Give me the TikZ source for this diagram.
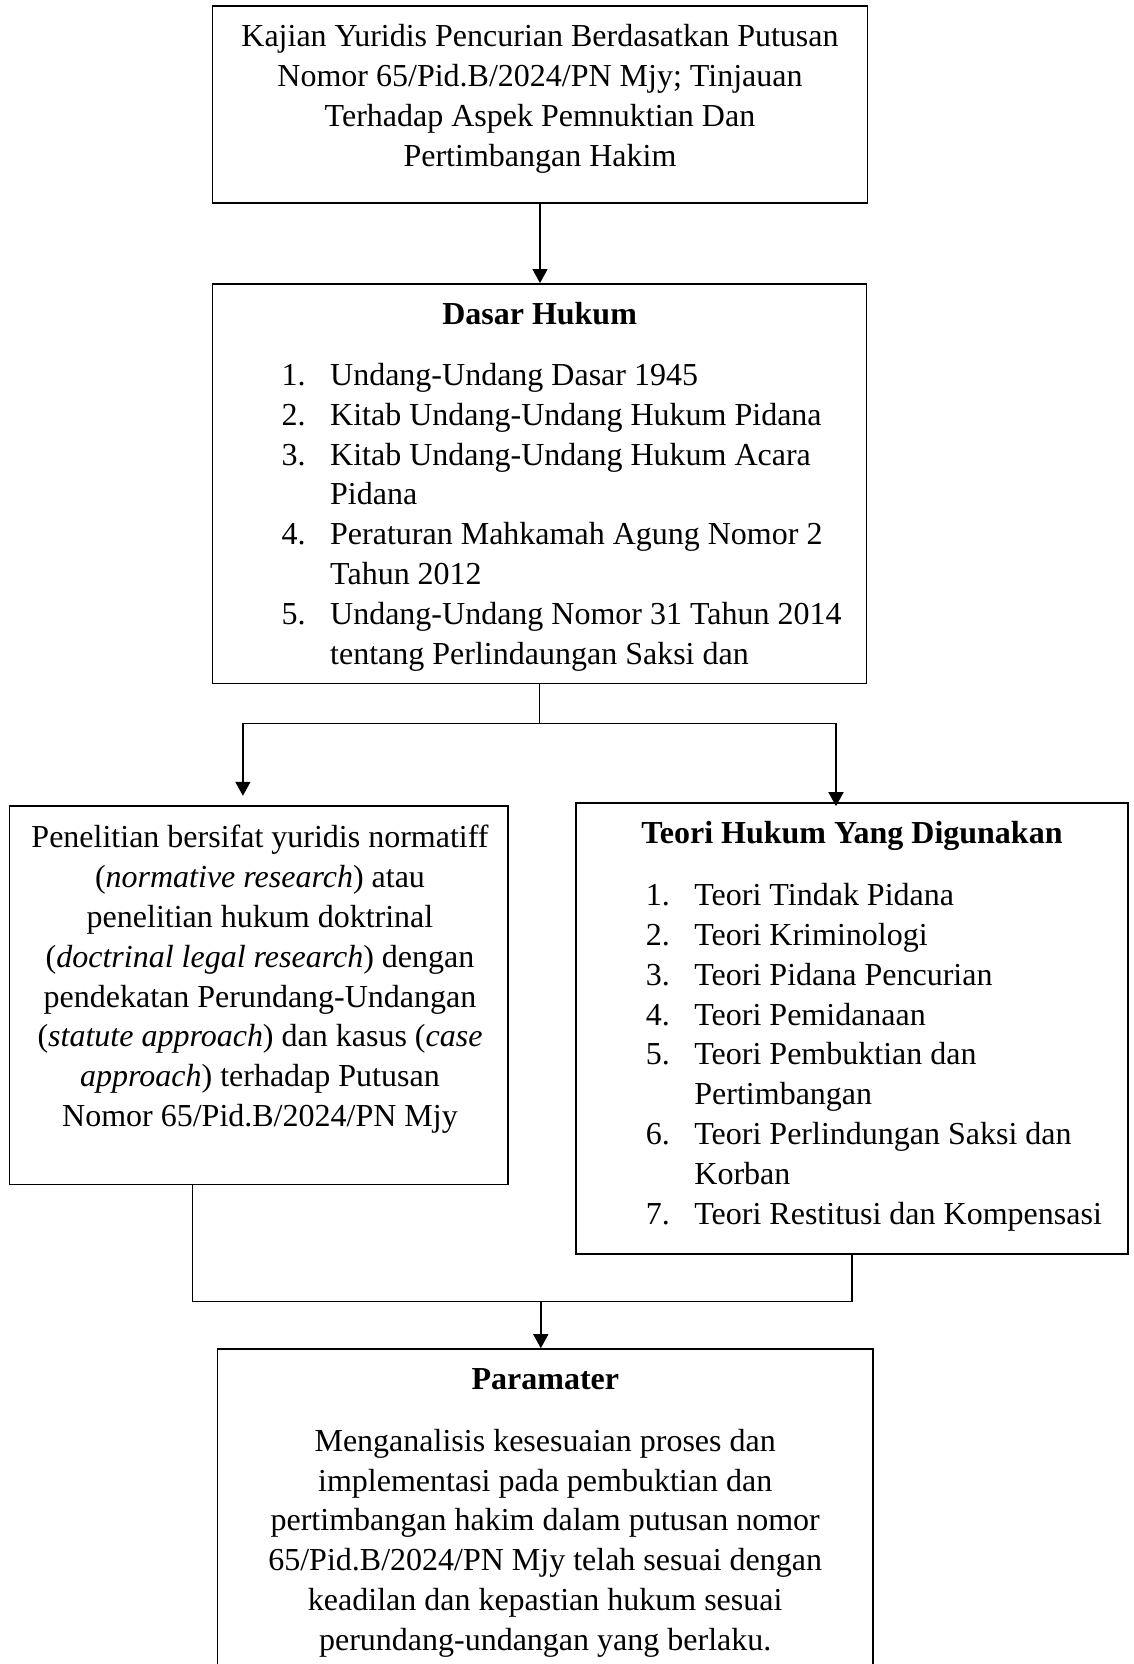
\documentclass[tikz,border=0pt]{standalone}
\usepackage{fontspec}
\setmainfont{Liberation Serif}
\usetikzlibrary{arrows.meta}
\tikzset{
  kotak/.style={draw, line width=0.8pt, inner sep=0pt},
  teks/.style={inner sep=0pt, font=\fontsize{16}{19.9}\selectfont},
  panah/.style={-{Triangle[length=7pt,width=7.5pt]}, line width=0.7pt},
  garis/.style={line width=0.7pt}
}
\newcommand{\butir}[1]{\makebox[24.3pt][l]{#1.}}
\newcommand{\lanjut}{\hspace*{24.3pt}}

\begin{document}
\begin{tikzpicture}[x=1pt,y=-1pt]
\useasboundingbox (0,0) rectangle (567,832);
\clip (0,0) rectangle (567,832);
% kotak-kotak
\node[kotak, minimum width=327.5pt, minimum height=98.7pt] (judul) at (270,52.3) {};
\node[kotak, minimum width=327pt, minimum height=199.7pt] (dasar) at (269.8,241.8) {};
\node[kotak, minimum width=249.3pt, minimum height=189.2pt] (metode) at (129.35,497.6) {};
\node[kotak, minimum width=275.8pt, minimum height=225.5pt] (teori) at (426,514.25) {};
\node[kotak, minimum width=327.7pt, minimum height=200pt] (param) at (272.5,774.5) {};

% isi kotak (anchor=base ada di baris terakhir)
\node[teks, align=center, anchor=base] (judulteks) at (270,83.1)
  {Kajian Yuridis Pencurian Berdasatkan Putusan\\
   Nomor 65/Pid.B/2024/PN Mjy; Tinjauan\\
   Terhadap Aspek Pemnuktian Dan\\
   Pertimbangan Hakim};
\node[teks, anchor=base] (dasarjudul) at (269.8,162.2) {\textbf{Dasar Hukum}};
\node[teks, align=left, anchor=base west] (dasarisi) at (140.6,332)
  {\butir{1}Undang-Undang Dasar 1945\\
   \butir{2}Kitab Undang-Undang Hukum Pidana\\
   \butir{3}Kitab Undang-Undang Hukum Acara\\
   \lanjut Pidana\\
   \butir{4}Peraturan Mahkamah Agung Nomor 2\\
   \lanjut Tahun 2012\\
   \butir{5}Undang-Undang Nomor 31 Tahun 2014\\
   \lanjut tentang Perlindaungan Saksi dan};
\node[teks, align=center, anchor=base] (metodeteks) at (130,563.2)
  {Penelitian bersifat yuridis normatiff\\
   (\textit{normative research}) atau\\
   penelitian hukum doktrinal\\
   (\textit{doctrinal legal research}) dengan\\
   pendekatan Perundang-Undangan\\
   (\textit{statute approach}) dan kasus (\textit{case}\\
   \textit{approach}) terhadap Putusan\\
   Nomor 65/Pid.B/2024/PN Mjy};
\node[teks, anchor=base] (teorijudul) at (426,421.8) {\textbf{Teori Hukum Yang Digunakan}};
\node[teks, align=left, anchor=base west] (teoriisi) at (322.7,612)
  {\butir{1}Teori Tindak Pidana\\
   \butir{2}Teori Kriminologi\\
   \butir{3}Teori Pidana Pencurian\\
   \butir{4}Teori Pemidanaan\\
   \butir{5}Teori Pembuktian dan\\
   \lanjut Pertimbangan\\
   \butir{6}Teori Perlindungan Saksi dan\\
   \lanjut Korban\\
   \butir{7}Teori Restitusi dan Kompensasi};
\node[teks, anchor=base] (paramjudul) at (272.7,694.6) {\textbf{Paramater}};
\node[teks, align=center, anchor=base] (paramteks) at (272.6,825.1)
  {Menganalisis kesesuaian proses dan\\
   implementasi pada pembuktian dan\\
   pertimbangan hakim dalam putusan nomor\\
   65/Pid.B/2024/PN Mjy telah sesuai dengan\\
   keadilan dan kepastian hukum sesuai\\
   perundang-undangan yang berlaku.};

% panah
\draw[panah] (judul.south) -- (judul.south |- dasar.north);
\coordinate (cabang) at ([yshift=-19.6pt]dasar.south);
\coordinate (kiri) at ([xshift=-7.9pt,yshift=4.7pt]metode.north);
\coordinate (kanan) at ([xshift=-8pt,yshift=-2pt]teori.north);
\draw[garis] (dasar.south) -- (cabang);
\draw[panah] (cabang) -| (kiri);
\draw[panah] (cabang) -| (kanan);
\coordinate (temu) at (270.4,650.8);
\draw[garis] ([xshift=-33.2pt]metode.south) |- (temu) -| (teori.south);
\draw[panah] (temu) -- (temu |- param.north);
\end{tikzpicture}
\end{document}
